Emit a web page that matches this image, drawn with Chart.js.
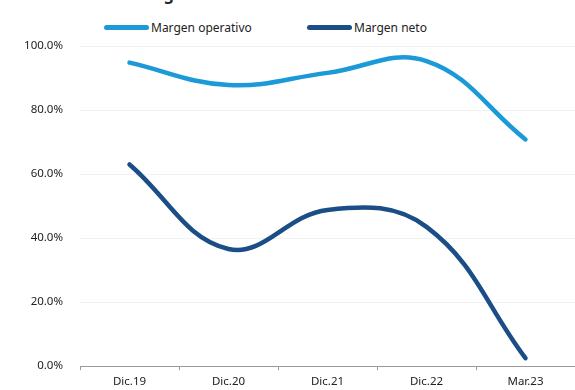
<!DOCTYPE html>
<html>
<head>
<meta charset="utf-8">
<script src="https://cdn.jsdelivr.net/npm/chart.js@4"></script>
<style>
  html, body { margin: 0; padding: 0; background: #fff; overflow: hidden; }
  #wrap { position: relative; width: 575px; height: 390px; }
  #title { position: absolute; left: 0; top: -17px; font: bold 16px "Noto Sans", sans-serif; color: #2a2a2a; white-space: nowrap; }
  .leg { position: absolute; top: 19px; font: 12px "Noto Sans", sans-serif; color: #222; display: flex; align-items: center; }
  .leg span.sw { display: inline-block; width: 45px; height: 5px; border-radius: 3px; margin-right: 2px; }
  canvas { position: absolute; left: 0; top: 0; }
</style>
</head>
<body>
<div id="wrap">
  <div id="title">Evolución de los márgenes de rentabilidad</div>
  <div class="leg" style="left:104px"><span class="sw" style="background:#1c9ad8"></span>Margen operativo</div>
  <div class="leg" style="left:307px"><span class="sw" style="background:#1b4d86"></span>Margen neto</div>
  <canvas id="chart" width="575" height="390"></canvas>
</div>
<script>
const categories = ['Dic.19', 'Dic.20', 'Dic.21', 'Dic.22', 'Mar.23'];
const margenOperativo = [94.8, 87.8, 91.6, 95.3, 70.8];
const margenNeto = [63.0, 36.6, 48.8, 43.5, 2.5];
const yTicks = [0, 20, 40, 60, 80, 100];

const ctx = document.getElementById('chart').getContext('2d');
new Chart(ctx, {
    type: 'line',
    data: {
        labels: categories,
        datasets: [
            { label: 'Margen operativo', data: margenOperativo, borderColor: '#1c9ad8', borderWidth: 4.5, tension: 0.4, pointRadius: 0, borderCapStyle: 'round' },
            { label: 'Margen neto', data: margenNeto, borderColor: '#1b4d86', borderWidth: 4.5, tension: 0.4, pointRadius: 0, borderCapStyle: 'round' }
        ]
    },
    options: {
        responsive: false,
        animation: false,
        layout: { padding: { top: 46, right: 0 } },
        plugins: { legend: { display: false }, tooltip: { enabled: false } },
        scales: {
            x: {
                offset: true,
                grid: { offset: true, drawOnChartArea: false, tickLength: 4, color: '#999' },
                border: { color: '#999' },
                ticks: { color: '#222', font: { family: 'Noto Sans', size: 11.5 }, padding: 5 },
                afterFit: s => { s.height = 19; }
            },
            y: {
                min: 0, max: 100,
                afterBuildTicks: s => { s.ticks = yTicks.map(v => ({ value: v })); },
                grid: { color: '#f2f2f2', drawTicks: false },
                border: { display: false },
                ticks: { color: '#222', padding: 17, font: { family: 'Noto Sans', size: 11.5 }, callback: v => v.toFixed(1) + '%' },
                afterFit: s => { s.width = 80; }
            }
        }
    }
});
</script>
</body>
</html>
